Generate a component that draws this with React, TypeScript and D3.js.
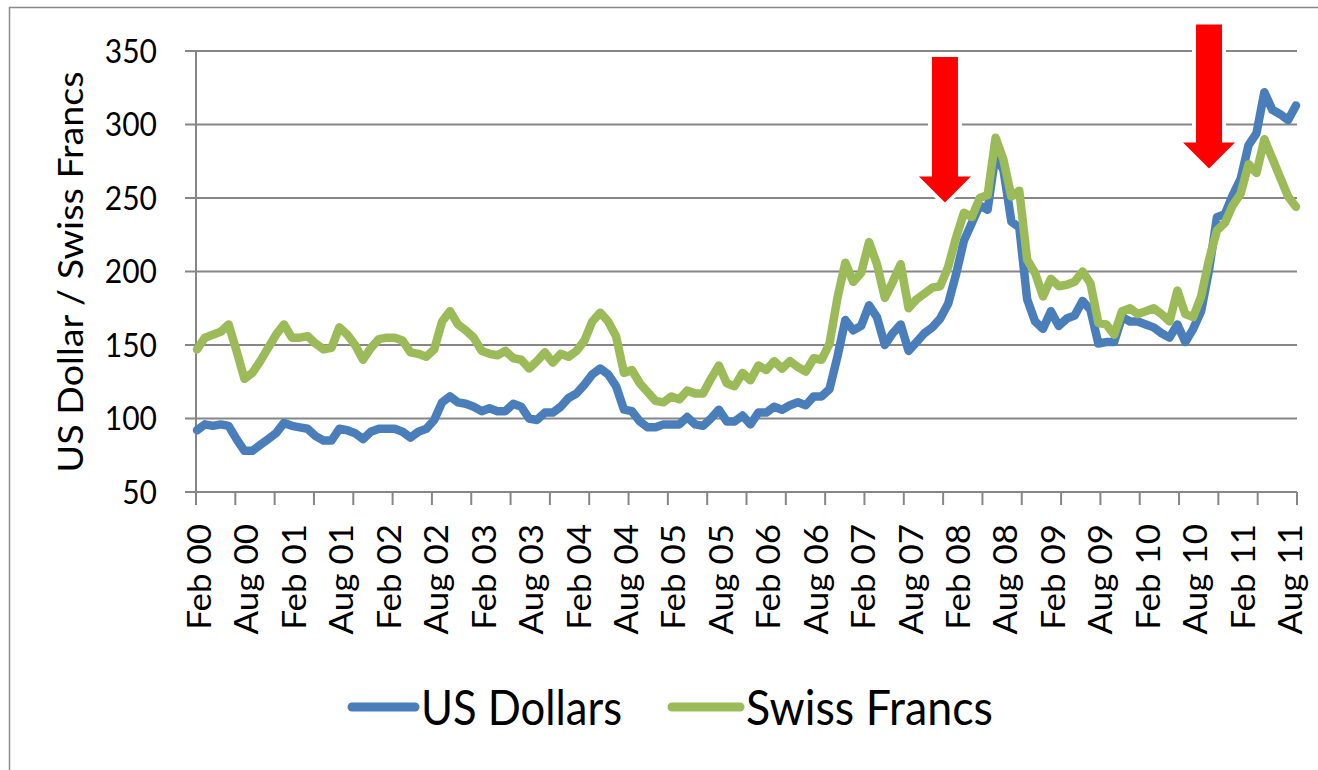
import React from 'react';
import * as d3 from 'd3';

const usd = [
  92, 96, 95, 96, 95, 86, 78, 78, 82, 86,
  90, 97, 95, 94, 93, 88, 85, 85, 93, 92,
  90, 86, 91, 93, 93, 93, 91, 87, 91, 93,
  99, 111, 115, 111, 110, 108, 105, 107, 105, 105,
  110, 108, 100, 99, 104, 104, 108, 114, 117, 123,
  130, 134, 130, 122, 106, 105, 98, 94, 94, 96,
  96, 96, 101, 96, 95, 100, 106, 98, 98, 102,
  96, 104, 104, 108, 106, 109, 111, 109, 115, 115,
  120, 142, 167, 160, 163, 177, 169, 150, 158, 164,
  146, 152, 158, 162, 168, 178, 198, 221, 233, 245,
  242, 280, 269, 234, 230, 181, 166, 161, 173, 163,
  168, 170, 180, 174, 151, 152, 152, 169, 166, 166,
  164, 162, 158, 155, 164, 152, 161, 173, 201, 237,
  239, 252, 263, 286, 294, 322, 310, 307, 303, 313,
];

const chf = [
  147, 155, 157, 159, 164, 146, 127, 131, 139, 148,
  157, 164, 155, 155, 156, 151, 147, 148, 162, 157,
  150, 140, 148, 154, 155, 155, 153, 145, 144, 142,
  147, 166, 173, 164, 160, 155, 146, 144, 143, 146,
  141, 140, 134, 139, 145, 138, 144, 142, 146, 153,
  166, 172, 166, 156, 131, 133, 124, 118, 112, 111,
  115, 113, 119, 117, 117, 127, 136, 124, 122, 131,
  126, 136, 133, 139, 134, 139, 135, 132, 141, 140,
  151, 182, 206, 193, 199, 220, 205, 182, 193, 205,
  175, 181, 185, 189, 190, 203, 223, 240, 237, 250,
  252, 291, 276, 251, 255, 208, 199, 183, 195, 190,
  191, 193, 200, 192, 165, 164, 157, 173, 175, 171,
  173, 175, 171, 166, 187, 171, 169, 183, 208, 228,
  233, 245, 253, 273, 267, 290, 277, 264, 251, 244,
];

const xLabels = [
  'Feb 00', 'Aug 00', 'Feb 01', 'Aug 01', 'Feb 02', 'Aug 02', 'Feb 03', 'Aug 03',
  'Feb 04', 'Aug 04', 'Feb 05', 'Aug 05', 'Feb 06', 'Aug 06', 'Feb 07', 'Aug 07',
  'Feb 08', 'Aug 08', 'Feb 09', 'Aug 09', 'Feb 10', 'Aug 10', 'Feb 11', 'Aug 11',
];
const labelStep = 6;
const yTicks = [50, 100, 150, 200, 250, 300, 350];
const seriesNames = ['US Dollars', 'Swiss Francs'];
const arrows = [
  { at: 94.6, tip: 247, top: 346 },
  { at: 128.0, tip: 270, top: 368 },
];

const FONT = "Lato, 'Open Sans', sans-serif";
const GRID = '#868686';
const BLUE = '#4A7EBB';
const GREEN = '#9BBB59';

export default function App() {
  const W = 1318;
  const H = 770;
  const x = d3.scaleLinear().domain([0, usd.length - 1]).range([197, 1296]);
  const y = d3.scaleLinear().domain([50, 350]).range([492, 51]);
  const tickScale = d3.scaleLinear().domain([0, 28]).range([196, 1297]);
  const line = d3
    .line<number>()
    .x((_, i) => x(i))
    .y((d) => y(d));

  const arrowPath = (a: { at: number; tip: number; top: number }) => {
    const cx = x(a.at);
    const ty = y(a.tip);
    const topY = y(a.top);
    const sw = 13;
    const hw = 26;
    const hl = 26;
    const hy = ty - hl;
    return `M${cx - sw},${topY} L${cx + sw},${topY} L${cx + sw},${hy} L${cx + hw},${hy} L${cx},${ty} L${cx - hw},${hy} L${cx - sw},${hy} Z`;
  };

  const legendItems = [
    { name: seriesNames[0], color: BLUE, x1: 352, x2: 415, tx: 421, tl: 201 },
    { name: seriesNames[1], color: GREEN, x1: 672, x2: 740, tx: 746, tl: 247 },
  ];

  return (
    <svg
      width={W}
      height={H}
      style={{ position: 'absolute', left: 0, top: 0, background: '#fff' }}
      fontFamily={FONT}
    >
      <rect x={0} y={0} width={W} height={H} fill="#fff" />
      <rect x={9.5} y={7.5} width={1400} height={900} fill="none" stroke="#8a8a8a" strokeWidth={1.5} />

      {/* gridlines + y ticks */}
      {yTicks.map((v) => (
        <line key={'g' + v} x1={185} x2={1297} y1={y(v)} y2={y(v)} stroke={GRID} strokeWidth={2} />
      ))}
      {/* y axis */}
      <line x1={196} x2={196} y1={y(350)} y2={505} stroke={GRID} strokeWidth={2} />
      {/* x ticks */}
      {d3.range(29).map((k) => (
        <line key={'xt' + k} x1={tickScale(k)} x2={tickScale(k)} y1={y(50)} y2={505} stroke={GRID} strokeWidth={2} />
      ))}

      {/* y tick labels */}
      {yTicks.map((v) => (
        <text
          key={'yl' + v}
          transform={`translate(157, ${y(v) + 11.5}) scale(1, 1.1)`}
          textAnchor="end"
          fontSize={30}
          fill="#000"
        >
          {v}
        </text>
      ))}

      {/* y title */}
      <text
        transform={`translate(83, 272) rotate(-90)`}
        textAnchor="middle"
        fontSize={35}
        textLength={401}
        lengthAdjust="spacingAndGlyphs"
        fill="#000"
      >
        US Dollar / Swiss Francs
      </text>

      {/* x labels */}
      {xLabels.map((lab, k) => (
        <text
          key={'xl' + k}
          transform={`translate(${x(k * labelStep) + 14}, 524) rotate(-90) scale(1.06, 1)`}
          textAnchor="end"
          fontSize={33}
          fill="#000"
        >
          {lab}
        </text>
      ))}

      {/* series */}
      <path d={line(usd) || ''} fill="none" stroke={BLUE} strokeWidth={8.5} strokeLinejoin="round" strokeLinecap="round" />
      <path d={line(chf) || ''} fill="none" stroke={GREEN} strokeWidth={8.5} strokeLinejoin="round" strokeLinecap="round" />

      {/* arrows */}
      {arrows.map((a, i) => (
        <path
          key={'ar' + i}
          d={arrowPath(a)}
          fill="#FF0000"
          stroke="#fff"
          strokeWidth={8}
          strokeLinejoin="miter"
          style={{ paintOrder: 'stroke' }}
        />
      ))}

      {/* legend */}
      {legendItems.map((it) => (
        <g key={it.name}>
          <line x1={it.x1} x2={it.x2} y1={707} y2={707} stroke={it.color} strokeWidth={9} strokeLinecap="round" />
          <text
            transform={`translate(${it.tx}, 725) scale(1, 1.12)`}
            fontSize={43}
            textLength={it.tl}
            lengthAdjust="spacingAndGlyphs"
            fill="#000"
          >
            {it.name}
          </text>
        </g>
      ))}
    </svg>
  );
}
